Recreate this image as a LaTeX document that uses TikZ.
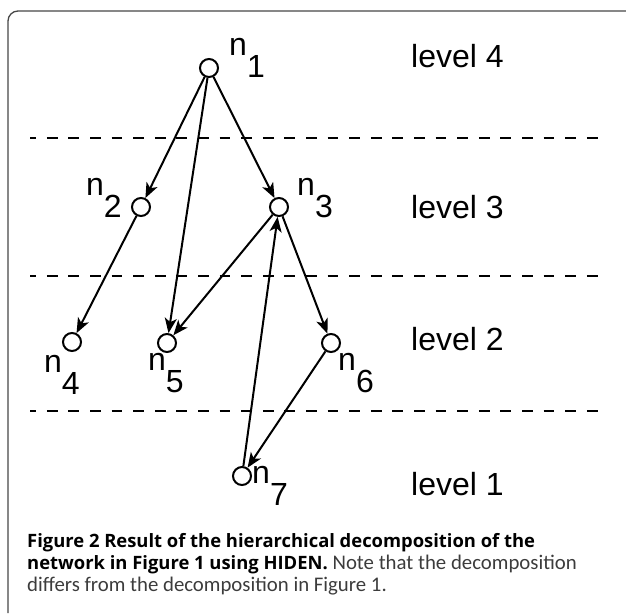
\documentclass[tikz,border=0pt]{standalone}
\usepackage{fontspec}
\setmainfont{Liberation Sans}
\newfontfamily\capfont{Open Sans}
\newfontfamily\capthin{Carlito}
\usepackage{tikz}
\usetikzlibrary{arrows.meta,positioning}
\definecolor{framegray}{RGB}{70,70,70}
\definecolor{capgray}{RGB}{60,60,60}

\begin{document}
\begin{tikzpicture}[x=1pt,y=-1pt,
  vertex/.style={draw,circle,line width=2pt,minimum size=18pt,inner sep=0pt},
  edge/.style={line width=2pt,-{Stealth[length=15pt,width=12pt,inset=4pt]}},
  levelsep/.style={line width=2.4pt,dash pattern=on 10.8pt off 10.8pt,dash phase=4.8pt},
  vlabel/.style={anchor=base west,inner sep=0pt,font=\fontsize{32}{32}\selectfont},
  levtext/.style={anchor=base west,inner sep=0pt,font=\fontsize{32}{32}\selectfont}]
\useasboundingbox (0,0) rectangle (626,613);
% frame
\draw[framegray,line width=1.3pt,rounded corners=10pt] (8,613) -- (8,11) -- (626,11);
% levels
\draw[levelsep] (30,138) -- (602,138);
\draw[levelsep] (30,276) -- (602,276);
\draw[levelsep] (30,411) -- (602,411);
\node[levtext] (lev4) at (411,67) {level 4};
\node[levtext] (lev3) at (411,218) {level 3};
\node[levtext] (lev2) at (411,350) {level 2};
\node[levtext] (lev1) at (411,495) {level 1};
% vertices
\node[vertex] (n1) at (209,68) {};
\node[vertex] (n2) at (141,207) {};
\node[vertex] (n3) at (279,207) {};
\node[vertex] (n4) at (72,342) {};
\node[vertex] (n5) at (167,343) {};
\node[vertex] (n6) at (331,343) {};
\node[vertex] (n7) at (242,476) {};
\node[vlabel] (ln1) at (229,55) {n\raisebox{-22pt}{1}};
\node[vlabel] (ln2) at (86,195) {n\raisebox{-22pt}{2}};
\node[vlabel] (ln3) at (297,195) {n\raisebox{-22pt}{3}};
\node[vlabel] (ln4) at (44,372) {n\raisebox{-22pt}{4}};
\node[vlabel] (ln5) at (148,370) {n\raisebox{-22pt}{5}};
\node[vlabel] (ln6) at (338,370) {n\raisebox{-22pt}{6}};
\node[vlabel] (ln7) at (252,483) {n\raisebox{-22pt}{7}};
% edges
\draw[edge] (n1) -- (n2);
\draw[edge] (n1) -- (n5);
\draw[edge] (n1) -- (n3);
\draw[edge] (n2) -- (n4);
\draw[edge] (n3) -- (n5);
\draw[edge] (n3) -- (n6);
\draw[edge] (n7) -- (n3);
\draw[edge] (n6) -- (n7);
% caption
\node[anchor=base west,inner sep=0pt,align=left,text=capgray,font=\capthin\fontsize{20.8}{22}\selectfont] (cap) at (27,591)
  {{\capfont\bfseries\fontsize{18.4}{22}\selectfont\color{black}Figure 2 Result of the hierarchical decomposition of the}\\
   {\capfont\bfseries\fontsize{18.4}{22}\selectfont\color{black}network in Figure 1 using HIDEN.} Note that the decomposition\\
   differs from the decomposition in Figure 1.};
\end{tikzpicture}
\end{document}
